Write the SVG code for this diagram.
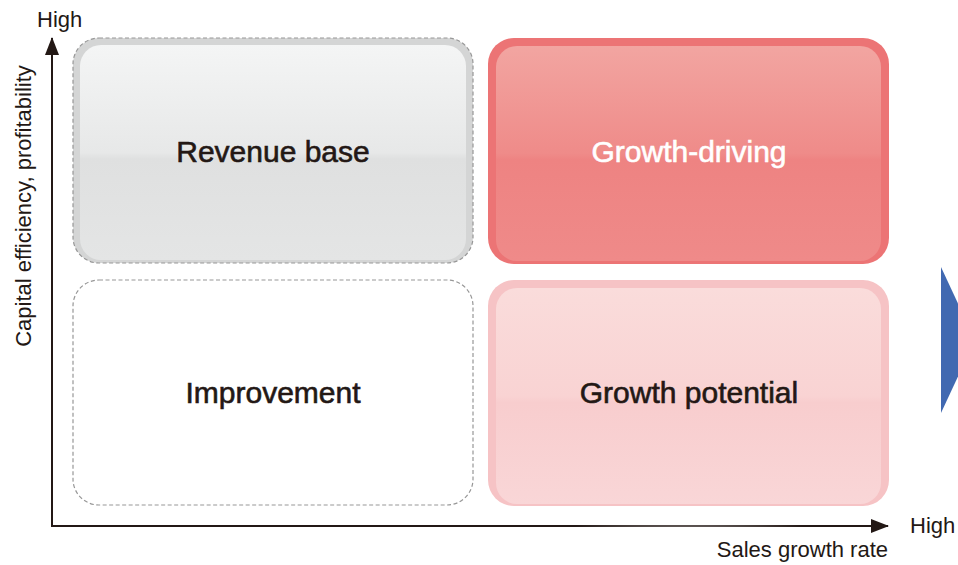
<svg xmlns="http://www.w3.org/2000/svg" width="958" height="565" viewBox="0 0 958 565">
<style>
.lbl{font-family:"Liberation Sans",Arial,sans-serif;fill:#231815}
.big{font-size:30px;text-anchor:middle;stroke:#231815;stroke-width:0.6}
.white{fill:#ffffff;stroke:#ffffff}
.small{font-size:22px}
.axis{stroke:#231815;stroke-width:2;fill:none}
.dash{stroke:#979797;stroke-width:1.2;stroke-dasharray:4 2.5}
</style>
<defs>
<marker id="ah" viewBox="0 0 18 14" refX="17" refY="7" markerWidth="18" markerHeight="14" markerUnits="userSpaceOnUse" orient="auto">
<path d="M0,0 L18,7 L0,14 Z" fill="#231815"/>
</marker>
<linearGradient id="gGray" x1="0" y1="0" x2="0" y2="1">
<stop offset="0" stop-color="#f4f5f5"/>
<stop offset="0.5" stop-color="#e7e8e8"/>
<stop offset="0.53" stop-color="#dfe0e0"/>
<stop offset="1" stop-color="#e4e5e5"/>
</linearGradient>
<linearGradient id="gRed" x1="0" y1="0" x2="0" y2="1">
<stop offset="0" stop-color="#f2a5a1"/>
<stop offset="0.5" stop-color="#ef8b89"/>
<stop offset="0.53" stop-color="#ee8382"/>
<stop offset="1" stop-color="#ef8a89"/>
</linearGradient>
<linearGradient id="gPink" x1="0" y1="0" x2="0" y2="1">
<stop offset="0" stop-color="#fadcdb"/>
<stop offset="0.5" stop-color="#f9d3d3"/>
<stop offset="0.53" stop-color="#f8cdce"/>
<stop offset="1" stop-color="#f9d6d7"/>
</linearGradient>
<radialGradient id="glow" cx="0.5" cy="1" r="0.5" fx="0.5" fy="1">
<stop offset="0" stop-color="#ffffff" stop-opacity="0.6"/>
<stop offset="1" stop-color="#ffffff" stop-opacity="0"/>
</radialGradient>
</defs>

<g id="connectors">
<line class="axis" x1="52" y1="527" x2="52" y2="38" marker-end="url(#ah)"/>
<line class="axis" x1="51" y1="526" x2="888" y2="526" marker-end="url(#ah)"/>
</g>

<g id="revenue-base">
<rect x="73" y="38" width="400" height="225" rx="26" fill="#d4d5d5"/>
<rect x="80" y="45" width="386" height="215" rx="21" fill="url(#gGray)"/>
<ellipse cx="273" cy="260" rx="140" ry="45" fill="url(#glow)" opacity="0.7"/>
<rect class="dash" x="73" y="38" width="400" height="225" rx="26" fill="none"/>
<text class="lbl big" x="273" y="162">Revenue base</text>
</g>

<g id="growth-driving">
<rect x="488" y="38" width="401" height="226" rx="26" fill="#ec7475"/>
<rect x="496" y="46" width="385" height="215" rx="21" fill="url(#gRed)"/>
<ellipse cx="689" cy="262" rx="140" ry="50" fill="url(#glow)"/>
<text class="lbl big white" x="689" y="162">Growth-driving</text>
</g>

<g id="improvement">
<rect class="dash" x="73" y="280" width="400" height="225" rx="26" fill="#ffffff"/>
<text class="lbl big" x="273" y="403">Improvement</text>
</g>

<g id="growth-potential">
<rect x="488" y="280" width="401" height="226" rx="26" fill="#f6c3c5"/>
<rect x="496" y="288" width="385" height="216" rx="21" fill="url(#gPink)"/>
<ellipse cx="689" cy="505" rx="140" ry="50" fill="url(#glow)"/>
<text class="lbl big" x="689" y="403">Growth potential</text>
</g>

<g id="axis-labels">
<text class="lbl small" x="37" y="27">High</text>
<text class="lbl small" x="910" y="533">High</text>
<text class="lbl small" x="888" y="557" text-anchor="end">Sales growth rate</text>
<text class="lbl small" x="0" y="0" text-anchor="middle" transform="translate(31,206) rotate(-90)">Capital efficiency, profitability</text>
</g>

<g id="next-arrow">
<polygon points="941,267 975,340 941,413" fill="#4169b1"/>
</g>
</svg>
